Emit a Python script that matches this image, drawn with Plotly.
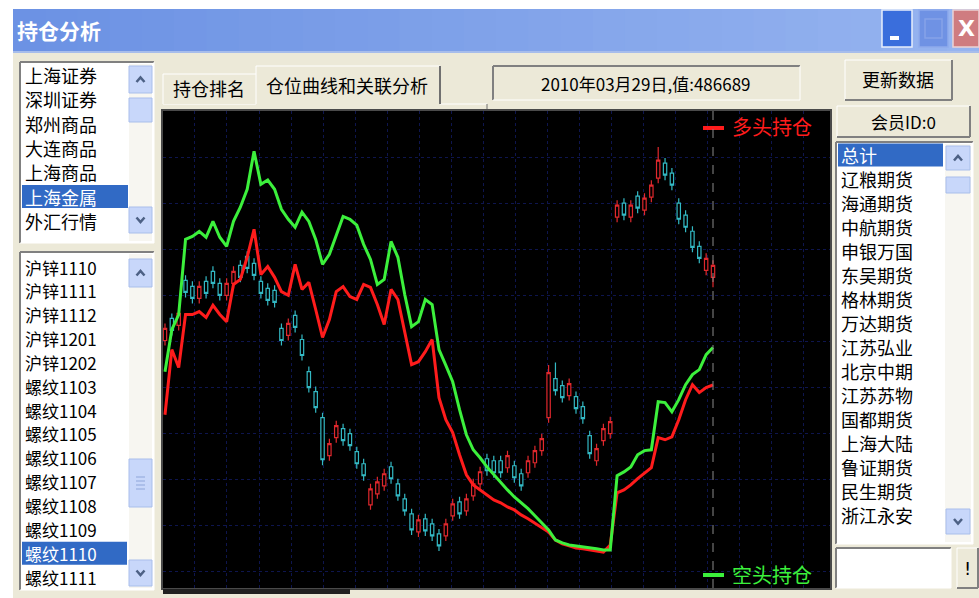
import plotly.graph_objects as go

# ---------------- data ----------------
day_idx = list(range(81))

# 多头持仓 (万手)
long_pos = [41.5, 57.1, 52.8, 65.5, 65.5, 66.2, 64.8, 67.7, 65.5, 63.8,
            72.7, 73.9, 79.2, 85.9, 75.1, 77.0, 74.4, 71.0, 70.1, 77.5,
            71.5, 73.2, 66.7, 60.0, 64.3, 71.0, 72.2, 69.8, 69.1, 72.7,
            72.0, 67.9, 63.1, 71.5, 69.1, 61.4, 53.5, 54.2, 56.6, 59.5,
            45.6, 40.3, 37.2, 31.9, 27.1, 24.7, 23.5, 22.3, 21.1, 20.4,
            19.4, 18.7, 17.5, 16.6, 15.6, 14.6, 13.4, 11.5, 10.6, 10.1,
            9.6, 9.4, 9.1, 8.9, 8.6, 10.3, 22.8, 23.5, 24.7, 26.2,
            27.6, 28.8, 36.0, 35.5, 36.2, 40.3, 45.1, 48.7, 46.8, 48.0,
            48.67]

# 空头持仓 (万手)
short_pos = [51.8, 61.9, 65.5, 83.5, 84.2, 85.4, 84.0, 87.8, 84.0, 81.8,
             87.8, 91.2, 95.5, 104.6, 96.7, 97.7, 95.5, 90.7, 88.3, 86.4,
             90.0, 87.8, 83.5, 77.5, 79.9, 84.2, 89.0, 88.3, 86.9, 82.3,
             78.7, 72.7, 73.9, 83.0, 79.2, 70.3, 62.6, 63.8, 69.1, 67.9,
             57.1, 53.3, 49.4, 42.7, 36.7, 33.1, 31.2, 29.0, 27.1, 25.4,
             23.5, 21.8, 20.4, 19.0, 17.3, 15.6, 13.9, 11.5, 10.8, 10.3,
             10.1, 9.8, 9.6, 9.4, 9.1, 9.1, 26.9, 27.8, 29.0, 31.9,
             32.9, 33.1, 44.6, 44.4, 42.2, 45.1, 48.7, 51.1, 52.3, 55.9,
             57.6]

# 螺纹 price candles
price_open = [4388, 4476, 4448, 4628, 4604, 4556, 4624, 4664, 4616, 4568,
              4616, 4688, 4724, 4696, 4624, 4596, 4588, 4436, 4408, 4488,
              4392, 4264, 4184, 4080, 3928, 4000, 4036, 4016, 3944, 3896,
              3732, 3776, 3808, 3884, 3816, 3756, 3696, 3624, 3676, 3656,
              3616, 3608, 3688, 3744, 3708, 3768, 3816, 3916, 3908, 3908,
              3880, 3888, 3856, 3860, 3900, 3948, 4080, 4236, 4208, 4168,
              4164, 4124, 4008, 3908, 3988, 4016, 4880, 4936, 4880, 4964,
              4908, 4960, 5036, 5096, 5056, 4936, 4888, 4824, 4764, 4668,
              4640]
price_close = [4436, 4428, 4496, 4580, 4556, 4604, 4576, 4616, 4568, 4616,
               4664, 4640, 4676, 4648, 4576, 4548, 4540, 4388, 4456, 4440,
               4328, 4200, 4120, 3912, 3976, 4048, 3988, 3968, 3896, 3848,
               3796, 3824, 3856, 3836, 3768, 3708, 3632, 3672, 3628, 3608,
               3568, 3656, 3736, 3696, 3756, 3816, 3864, 3868, 3860, 3860,
               3928, 3840, 3808, 3908, 3948, 3996, 4260, 4188, 4160, 4216,
               4116, 4076, 3936, 3956, 4036, 4064, 4928, 4888, 4928, 4916,
               4956, 5008, 5108, 5048, 5008, 4872, 4840, 4760, 4716, 4716,
               4688]
price_high = [4456, 4496, 4516, 4648, 4624, 4624, 4644, 4684, 4636, 4636,
              4684, 4708, 4744, 4716, 4644, 4616, 4608, 4456, 4476, 4508,
              4412, 4284, 4204, 4100, 3996, 4068, 4056, 4036, 3964, 3916,
              3816, 3844, 3876, 3904, 3836, 3776, 3716, 3692, 3696, 3676,
              3636, 3676, 3756, 3764, 3776, 3836, 3884, 3936, 3928, 3928,
              3948, 3908, 3876, 3928, 3968, 4016, 4290, 4300, 4228, 4236,
              4184, 4144, 4028, 3976, 4056, 4084, 4948, 4956, 4948, 4984,
              4976, 5028, 5160, 5116, 5076, 4956, 4908, 4844, 4784, 4736,
              4708]
price_low = [4368, 4408, 4428, 4560, 4536, 4536, 4556, 4596, 4548, 4548,
             4596, 4620, 4656, 4628, 4556, 4528, 4520, 4368, 4388, 4420,
             4308, 4180, 4100, 3890, 3908, 3980, 3968, 3948, 3876, 3828,
             3712, 3756, 3788, 3816, 3748, 3688, 3612, 3604, 3608, 3588,
             3548, 3588, 3668, 3676, 3688, 3748, 3796, 3848, 3840, 3840,
             3860, 3820, 3788, 3840, 3880, 3928, 4060, 4168, 4140, 4148,
             4096, 4056, 3916, 3888, 3968, 3996, 4860, 4868, 4860, 4896,
             4888, 4940, 5016, 5028, 4988, 4852, 4820, 4740, 4696, 4648,
             4600]

market_list = ["上海证券", "深圳证券", "郑州商品", "大连商品", "上海商品", "上海金属", "外汇行情"]
contract_list = ["沪锌1110", "沪锌1111", "沪锌1112", "沪锌1201", "沪锌1202",
                 "螺纹1103", "螺纹1104", "螺纹1105", "螺纹1106", "螺纹1107",
                 "螺纹1108", "螺纹1109", "螺纹1110", "螺纹1111"]
member_list = ["总计", "辽粮期货", "海通期货", "中航期货", "申银万国", "东吴期货",
               "格林期货", "万达期货", "江苏弘业", "北京中期", "江苏苏物", "国都期货",
               "上海大陆", "鲁证期货", "民生期货", "浙江永安"]
title_text = "持仓分析"
tab_labels = ["持仓排名", "仓位曲线和关联分析"]
status_text = "2010年03月29日,值:486689"
button_text = "更新数据"
member_id_text = "会员ID:0"
legend_long = "多头持仓"
legend_short = "空头持仓"

# ---------------- layout helpers ----------------
W, H = 979, 598
FONT = "Noto Sans CJK SC"
BG = "#ECE9D8"
shapes, annotations = [], []


def px(x):
    return x / W


def py(y):
    return 1 - y / H


def rect(x0, y0, x1, y1, fill, line=None, lw=1, layer="below"):
    shapes.append(dict(type="rect", xref="paper", yref="paper",
                       x0=px(x0), x1=px(x1), y0=py(y1), y1=py(y0),
                       fillcolor=fill,
                       line=dict(color=line if line else fill, width=lw if line else 0),
                       layer=layer))


def seg(x0, y0, x1, y1, color, w=1, layer="below", dash=None):
    d = dict(color=color, width=w)
    if dash:
        d["dash"] = dash
    shapes.append(dict(type="line", xref="paper", yref="paper",
                       x0=px(x0), x1=px(x1), y0=py(y0), y1=py(y1),
                       line=d, layer=layer))


def path(points, color, w=2, layer="above"):
    p = "M " + " L ".join(f"{px(a):.5f},{py(b):.5f}" for a, b in points)
    shapes.append(dict(type="path", xref="paper", yref="paper", path=p,
                       line=dict(color=color, width=w), layer=layer))


def label(x, y, text, size=18, color="black", anchor="left", family=FONT):
    annotations.append(dict(xref="paper", yref="paper", x=px(x), y=py(y),
                            text=text, showarrow=False, xanchor=anchor,
                            yanchor="middle", borderpad=0,
                            font=dict(size=size, color=color, family=family)))


def raised(x0, y0, x1, y1, fill=BG):
    rect(x0, y0, x1, y1, fill)
    seg(x0, y0, x1, y0, "#FFFFFF")
    seg(x0, y0, x0, y1, "#FFFFFF")
    seg(x0, y1, x1, y1, "#808080", 2)
    seg(x1, y0, x1, y1, "#808080", 2)


def sunken(x0, y0, x1, y1, fill):
    rect(x0, y0, x1, y1, fill)
    seg(x0, y0, x1, y0, "#808080", 2)
    seg(x0, y0, x0, y1, "#808080", 2)
    seg(x0, y1, x1, y1, "#FFFFFF")
    seg(x1, y0, x1, y1, "#FFFFFF")


def sb_button(x0, y0, x1, y1, up):
    rect(x0, y0, x1, y1, "#C8D7FA", "#A9BEEB")
    cx, cy = (x0 + x1) / 2, (y0 + y1) / 2
    if up:
        path([(cx - 4, cy + 2.5), (cx, cy - 2), (cx + 4, cy + 2.5)], "#4D6185", 2.5)
    else:
        path([(cx - 4, cy - 2.5), (cx, cy + 2), (cx + 4, cy - 2.5)], "#4D6185", 2.5)


# window background
rect(13, 9, 979, 598, BG)
# title bar gradient
n = 30
c0, c1 = (108, 146, 228), (150, 180, 240)
for k in range(n):
    t = k / (n - 1)
    col = "rgb({},{},{})".format(*[int(c0[j] + (c1[j] - c0[j]) * t) for j in range(3)])
    xa = 13 + (979 - 13) * k / n
    xb = 13 + (979 - 13) * (k + 1) / n + 1
    rect(xa, 9, xb, 52, col)
seg(13, 52, 979, 52, "#A7BDEB", 2)
label(16, 30, "<b>" + title_text + "</b>", size=21, color="#FFFFFF")
# caption buttons
rect(882, 10, 912, 47, "#3A6EDC", "#E8EEFC", 1.5)
rect(890, 36, 899, 40, "#FFFFFF")
rect(919, 10, 948, 47, "#6F92E4", "#8EABEC", 1.5)
rect(925, 19, 942, 38, "rgba(0,0,0,0)", "#86A3E8", 1.5)
rect(953, 10, 979, 47, "#CF7C80", "#EBD2D4", 1.5)
label(966, 29, "<b>X</b>", size=22, color="#FFFFFF", anchor="center", family="DejaVu Sans")

# ---- left market list
sunken(20, 62, 154, 243, "#FFFFFF")
rect(129, 64, 152, 241, "#F7F6F1")
sb_button(129, 66, 152, 93, True)
rect(129, 98, 152, 122, "#C8D7FA", "#A9BEEB")
sb_button(129, 207, 152, 233, False)
sel_market = 5
for k, name in enumerate(market_list):
    yc = 75 + 24.3 * k
    if k == sel_market:
        rect(22, yc - 11.5, 128, yc + 11.5, "#316AC5")
        label(24, yc, name, color="#FFFFFF")
    else:
        label(24, yc, name)

# ---- left contract list
sunken(20, 252, 154, 590, "#FFFFFF")
rect(129, 254, 152, 588, "#F7F6F1")
sb_button(129, 259, 152, 287, True)
rect(129, 459, 152, 507, "#C8D7FA", "#A9BEEB")
for gy in (477, 481, 485, 489):
    seg(136, gy, 145, gy, "#8FA6DA", 1, layer="above")
sb_button(129, 560, 152, 586, False)
sel_contract = 12
for k, name in enumerate(contract_list):
    yc = 267 + 23.85 * k
    if k == sel_contract:
        rect(22, yc - 11.5, 127, yc + 11.5, "#316AC5")
        label(24, yc, name, size=17, color="#FFFFFF")
    else:
        label(24, yc, name, size=17)

# ---- tabs
rect(163, 104, 487, 110, BG)
seg(163, 104, 256, 104, "#FFFFFF")
seg(440, 104, 487, 104, "#FFFFFF")
rect(163, 74, 256, 104, BG)
seg(163, 74, 256, 74, "#FFFFFF")
seg(163, 74, 163, 104, "#FFFFFF")
rect(256, 66, 440, 104, BG)
seg(256, 66, 440, 66, "#FFFFFF")
seg(256, 66, 256, 104, "#FFFFFF")
seg(440, 66, 440, 104, "#707070", 2)
seg(487, 104, 487, 110, "#707070", 1)
label(209, 88, tab_labels[0], anchor="center")
label(347, 85, tab_labels[1], anchor="center")

# ---- status box
sunken(493, 66, 800, 100, BG)
label(646, 83, status_text, size=17, anchor="center")

# ---- update button
raised(845, 60, 952, 100)
label(898, 79, button_text, anchor="center")

# ---- member panel
raised(837, 106, 970, 137)
label(903, 122, member_id_text, size=17, anchor="center")
sunken(836, 142, 973, 544, "#FFFFFF")
rect(945, 144, 971, 542, "#F7F6F1")
sb_button(946, 146, 970, 170, True)
rect(946, 177, 970, 193, "#C8D7FA", "#A9BEEB")
sb_button(946, 509, 970, 534, False)
for k, name in enumerate(member_list):
    yc = 155 + 24 * k
    if k == 0:
        rect(838, yc - 11.5, 943, yc + 11.5, "#316AC5")
        label(840, yc, name, color="#FFFFFF")
    else:
        label(840, yc, name)
sunken(836, 548, 951, 588, "#FFFFFF")
raised(957, 548, 978, 588)
label(967, 568, "!", size=18, anchor="center", family="DejaVu Sans")

# ---- chart frame (black area drawn as shape under the traces)
rect(161, 109, 832, 590, "#4A4A4A")
rect(163, 111, 830, 588, "#000000")
rect(163, 589, 350, 594, "#202020")

# legend labels inside chart
seg(703, 128, 724, 128, "#FF1C1C", 4, layer="above")
label(731, 127, legend_long, size=20, color="#FF1C1C")
seg(703, 575, 724, 575, "#3CF03C", 4, layer="above")
label(731, 574, legend_short, size=20, color="#3CF03C")

# ---------------- traces ----------------
fig = go.Figure()
fig.add_trace(go.Candlestick(
    x=day_idx, open=price_open, high=price_high, low=price_low, close=price_close,
    increasing=dict(line=dict(color="#E0282D", width=1.2), fillcolor="#000000"),
    decreasing=dict(line=dict(color="#33B9C4", width=1.2), fillcolor="#000000"),
    whiskerwidth=0, hoverinfo="skip", showlegend=False, xaxis="x", yaxis="y"))
fig.add_trace(go.Scatter(
    x=day_idx, y=long_pos, mode="lines", name=legend_long,
    line=dict(color="#FF1C1C", width=3), yaxis="y2", hoverinfo="skip", showlegend=False))
fig.add_trace(go.Scatter(
    x=day_idx, y=short_pos, mode="lines", name=legend_short,
    line=dict(color="#3CF03C", width=3), yaxis="y2", hoverinfo="skip", showlegend=False))

# cursor line at the last day
shapes.append(dict(type="line", xref="x", yref="paper", x0=day_idx[-1], x1=day_idx[-1],
                   y0=py(588), y1=py(111), line=dict(color="#8A8A8A", width=1, dash="dash"),
                   layer="above"))

grid = dict(showgrid=True, gridcolor="#0E154E", gridwidth=1, griddash="dot",
            showticklabels=False, ticks="", zeroline=False, showline=False)

fig.update_layout(
    width=W, height=H, autosize=False,
    margin=dict(l=0, r=0, t=0, b=0),
    paper_bgcolor="#FFFFFF", plot_bgcolor="rgba(0,0,0,0)",
    xaxis=dict(domain=[px(163), px(830)], range=[-0.29, 97.08],
               tick0=4.38, dtick=4.672, rangeslider=dict(visible=False), **grid),
    yaxis=dict(domain=[py(588), py(111)], range=[3400, 5304],
               tick0=5120, dtick=184, **grid),
    yaxis2=dict(overlaying="y", range=[0, 114.24], visible=False),
    shapes=shapes, annotations=annotations,
    showlegend=False, hovermode=False,
)

fig.write_html("out.html", config=dict(displayModeBar=False),
               post_script="document.body.style.margin='0';document.body.style.padding='0';")
